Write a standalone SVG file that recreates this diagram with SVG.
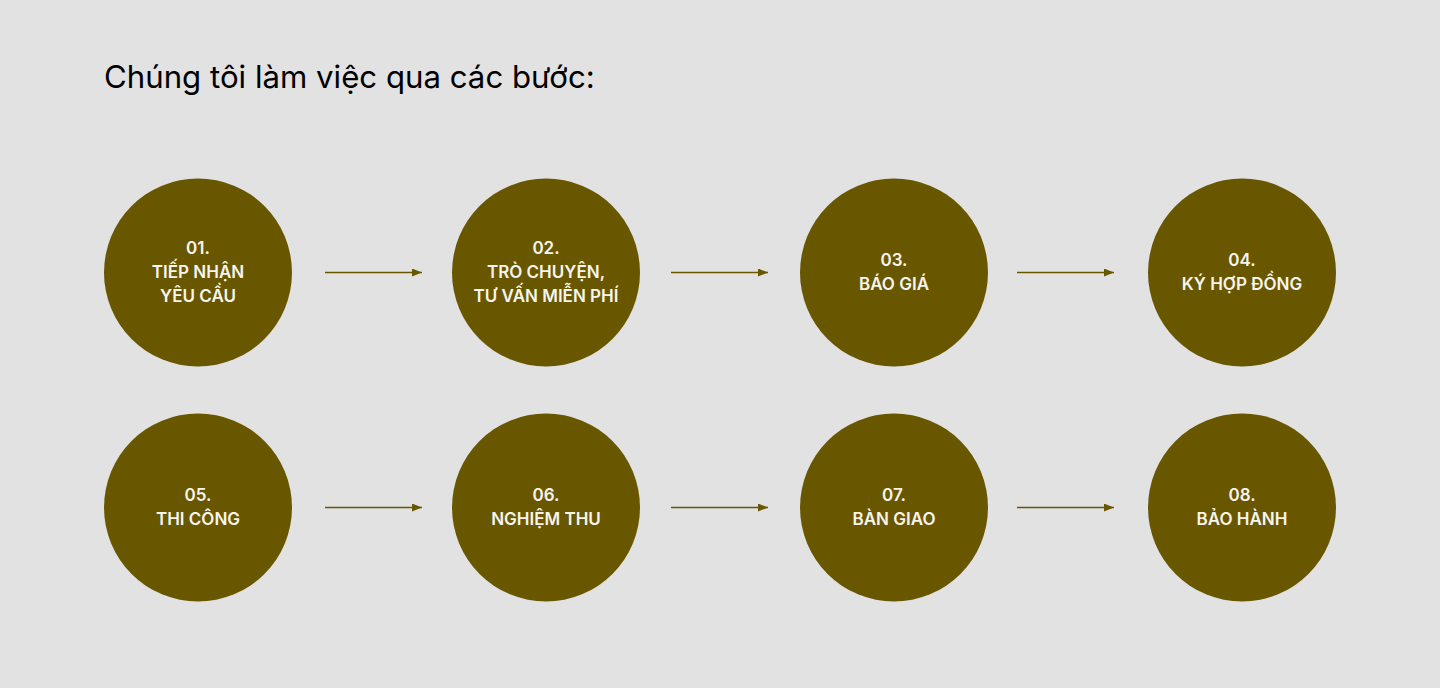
<svg xmlns="http://www.w3.org/2000/svg" width="1440" height="688" viewBox="0 0 1440 688">
<defs>
<style>
.node circle{fill:#695700}
.node text{fill:#f7f5ee;font-family:Inter,"Liberation Sans",sans-serif;font-size:17px;font-weight:600;text-anchor:middle}
.title{fill:#000;font-family:Inter,"Liberation Sans",sans-serif;font-size:31.2px}
#connectors line{stroke:#695700;stroke-width:1.3;marker-end:url(#ah)}
</style>
<marker id="ah" viewBox="0 0 10 8" refX="10" refY="4" markerWidth="10" markerHeight="8" markerUnits="userSpaceOnUse" orient="auto">
<path d="M0,0 L10,4 L0,8 Z" fill="#695700"/>
</marker>
</defs>
<rect width="1440" height="688" fill="#e2e2e2"/>
<text class="title" x="104" y="88">Chúng tôi làm việc qua các bước:</text>
<g id="connectors">
<line x1="325" y1="272.5" x2="422" y2="272.5"/>
<line x1="671" y1="272.5" x2="768" y2="272.5"/>
<line x1="1017" y1="272.5" x2="1114" y2="272.5"/>
<line x1="325" y1="507.5" x2="422" y2="507.5"/>
<line x1="671" y1="507.5" x2="768" y2="507.5"/>
<line x1="1017" y1="507.5" x2="1114" y2="507.5"/>
</g>
<g id="n1" class="node"><circle cx="198" cy="272.5" r="94"/><text x="198" y="254">01.</text><text x="198" y="278">TIẾP NHẬN</text><text x="198" y="302">YÊU CẦU</text></g>
<g id="n2" class="node"><circle cx="546" cy="272.5" r="94"/><text x="546" y="254">02.</text><text x="546" y="278">TRÒ CHUYỆN,</text><text x="546" y="302">TƯ VẤN MIỄN PHÍ</text></g>
<g id="n3" class="node"><circle cx="894" cy="272.5" r="94"/><text x="894" y="266">03.</text><text x="894" y="290">BÁO GIÁ</text></g>
<g id="n4" class="node"><circle cx="1242" cy="272.5" r="94"/><text x="1242" y="266">04.</text><text x="1242" y="290">KÝ HỢP ĐỒNG</text></g>
<g id="n5" class="node"><circle cx="198" cy="507.5" r="94"/><text x="198" y="501">05.</text><text x="198" y="525">THI CÔNG</text></g>
<g id="n6" class="node"><circle cx="546" cy="507.5" r="94"/><text x="546" y="501">06.</text><text x="546" y="525">NGHIỆM THU</text></g>
<g id="n7" class="node"><circle cx="894" cy="507.5" r="94"/><text x="894" y="501">07.</text><text x="894" y="525">BÀN GIAO</text></g>
<g id="n8" class="node"><circle cx="1242" cy="507.5" r="94"/><text x="1242" y="501">08.</text><text x="1242" y="525">BẢO HÀNH</text></g>
</svg>
